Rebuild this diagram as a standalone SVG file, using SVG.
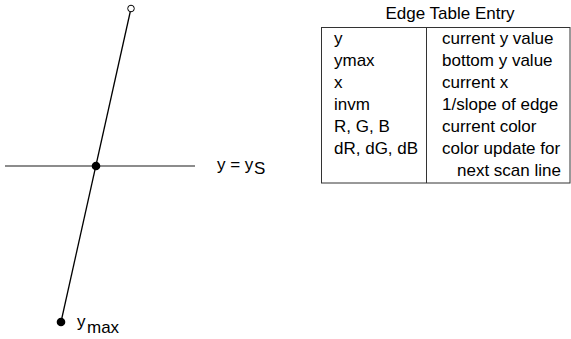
<svg xmlns="http://www.w3.org/2000/svg" width="571" height="339" viewBox="0 0 571 339">
<style>
text{font-family:"Liberation Sans",Arial,sans-serif;font-size:17px;fill:#000}
.edge{stroke:#000;stroke-width:1.3;fill:none}
.gray{stroke:#666;stroke-width:1.3;fill:none}
.tbl{stroke:#333;stroke-width:1;fill:none}
</style>
<rect width="571" height="339" fill="#fff"/>
<g id="connectors">
<line class="gray" x1="5" y1="166" x2="195" y2="166"/>
<line class="edge" x1="130.3" y1="11.5" x2="61" y2="322"/>
</g>
<g id="top-vertex"><circle cx="131" cy="8.5" r="3.3" fill="#fff" stroke="#000" stroke-width="1"/></g>
<g id="intersection"><circle cx="96" cy="166" r="4.3" fill="#000"/></g>
<g id="bottom-vertex"><circle cx="61" cy="322" r="4.3" fill="#000"/>
<text x="77" y="327">y</text><text x="87" y="333">max</text></g>
<g id="scanline-label"><text x="217" y="170">y = y</text><text x="254" y="174">S</text></g>
<g id="edge-table">
<text x="450" y="19" text-anchor="middle">Edge Table Entry</text>
<rect class="tbl" x="321.5" y="27.5" width="248.5" height="155.5"/>
<line class="tbl" x1="426.5" y1="27.5" x2="426.5" y2="183"/>
<text x="334" y="44">y</text><text x="442" y="44">current y value</text>
<text x="334" y="66">ymax</text><text x="442" y="66">bottom y value</text>
<text x="334" y="88">x</text><text x="442" y="88">current x</text>
<text x="334" y="110">invm</text><text x="442" y="110">1/slope of edge</text>
<text x="334" y="132">R, G, B</text><text x="442" y="132">current color</text>
<text x="334" y="154">dR, dG, dB</text><text x="442" y="154">color update for</text>
<text x="457" y="176">next scan line</text>
</g>
</svg>
